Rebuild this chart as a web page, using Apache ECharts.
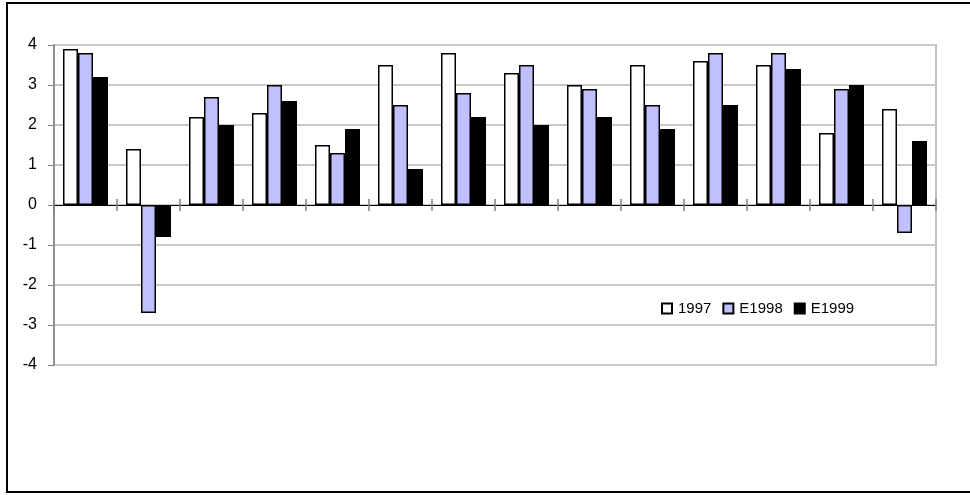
<!DOCTYPE html>
<html>
<head>
<meta charset="utf-8">
<script src="https://cdn.jsdelivr.net/npm/echarts@6/dist/echarts.min.js"></script>
<style>
  html, body { margin: 0; padding: 0; background: #ffffff; }
  #chart { width: 970px; height: 495px; }
</style>
</head>
<body>
<div id="chart"></div>
<script>
// Growth figures per region: actual 1997, estimates for 1998 and 1999
const categories = ['1', '2', '3', '4', '5', '6', '7', '8', '9', '10', '11', '12', '13', '14'];
const seriesNames = ['1997', 'E1998', 'E1999'];
const values1997 = [3.9, 1.4, 2.2, 2.3, 1.5, 3.5, 3.8, 3.3, 3.0, 3.5, 3.6, 3.5, 1.8, 2.4];
const valuesE1998 = [3.8, -2.7, 2.7, 3.0, 1.3, 2.5, 2.8, 3.5, 2.9, 2.5, 3.8, 3.8, 2.9, -0.7];
const valuesE1999 = [3.2, -0.8, 2.0, 2.6, 1.9, 0.9, 2.2, 2.0, 2.2, 1.9, 2.5, 3.4, 3.0, 1.6];
const yTicks = { min: -4, max: 4, interval: 1 };

const fillColors = ['#ffffff', '#c0c0ff', '#000000'];
const seriesData = [values1997, valuesE1998, valuesE1999];

const chart = echarts.init(document.getElementById('chart'));

const font = '"Liberation Sans", Arial, sans-serif';

chart.setOption({
  animation: false,
  backgroundColor: '#ffffff',
  textStyle: { fontFamily: font },
  graphic: [{
    type: 'rect',
    shape: { x: 7, y: 3, width: 1000, height: 489 },
    style: { fill: 'none', stroke: '#000000', lineWidth: 2 },
    silent: true
  }],
  grid: {
    left: 54, right: 34, top: 45, bottom: 130,
    show: true,
    borderColor: '#c0c0c0',
    borderWidth: 2,
    backgroundColor: 'transparent'
  },
  legend: {
    data: seriesNames,
    left: 656, top: 296,
    itemWidth: 10, itemHeight: 10,
    itemGap: 11,
    icon: 'rect',
    textStyle: { fontFamily: font, fontSize: 15, color: '#000000', padding: [0, 0, 0, 1] }
  },
  xAxis: [{
    type: 'category',
    data: categories,
    axisLine: { onZero: true, lineStyle: { color: '#000000', width: 1 } },
    axisTick: { show: true, length: 6, lineStyle: { color: '#808080', width: 1.5 } },
    axisLabel: { show: false },
    splitLine: { show: false }
  }, {
    type: 'category',
    data: categories,
    position: 'top',
    offset: -160,
    axisLine: { show: false },
    axisTick: { show: true, length: 6, lineStyle: { color: '#808080', width: 1.5 } },
    axisLabel: { show: false },
    splitLine: { show: false }
  }],
  yAxis: {
    type: 'value',
    min: yTicks.min, max: yTicks.max, interval: yTicks.interval,
    axisLine: { show: true, lineStyle: { color: '#808080', width: 1.5 } },
    axisTick: { show: true, length: 6, lineStyle: { color: '#808080', width: 1 } },
    axisLabel: { color: '#000000', fontSize: 16, fontFamily: font, margin: 17 },
    splitLine: { show: true, lineStyle: { color: '#c8c8c8', width: 2 } }
  },
  series: seriesNames.map((name, i) => ({
    name: name,
    type: 'bar',
    xAxisIndex: 0,
    data: seriesData[i],
    barWidth: 15,
    barGap: '0%',
    itemStyle: { color: fillColors[i], borderColor: '#000000', borderWidth: 1.5 },
    emphasis: { disabled: true }
  }))
});
</script>
</body>
</html>
